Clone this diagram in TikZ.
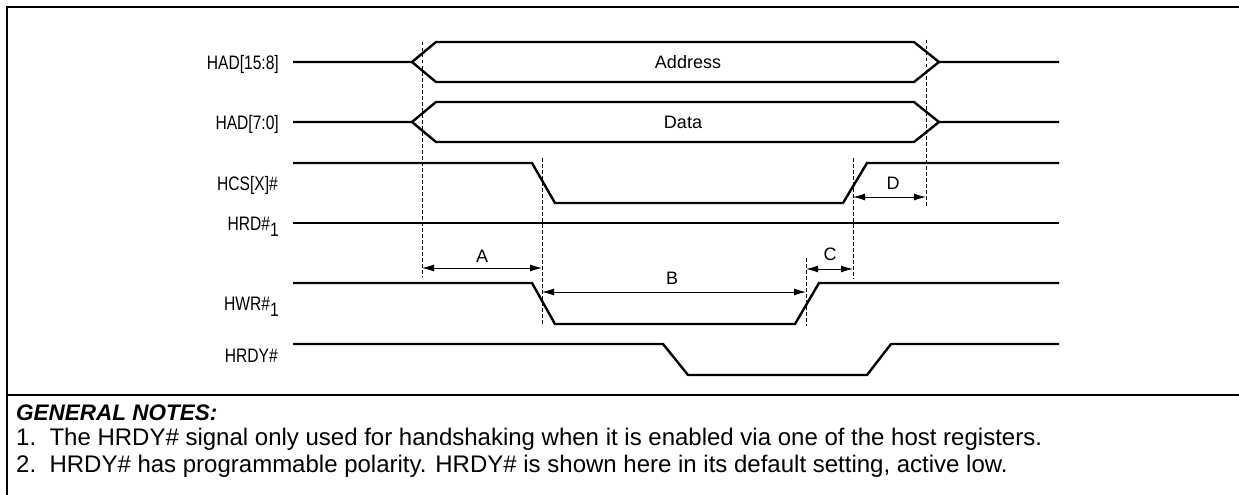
\documentclass[tikz,border=0pt]{standalone}
\usepackage{fontspec}
\setmainfont{Liberation Sans}
\newfontfamily\namefont[FakeStretch=0.8]{Liberation Sans}
\usetikzlibrary{arrows.meta}
\begin{document}
\begin{tikzpicture}[x=1pt, y=-1pt, font=\fontsize{18}{20}\selectfont,
    sig/.style={line width=2.4pt, line join=miter},
    guide/.style={line width=0.9pt, dash pattern=on 3.5pt off 2.5pt},
    dim/.style={line width=0.9pt, {Latex[length=12pt,width=7pt]}-{Latex[length=12pt,width=7pt]}},
    lbl/.style={anchor=base east, inner sep=0pt, font=\fontsize{19.5}{21}\namefont},
    tag/.style={inner sep=0pt},
    note/.style={anchor=base west, inner sep=0pt, font=\fontsize{24}{26}\selectfont}]
  \useasboundingbox (0,0) rectangle (1239,495);
  % frame
  \draw[line width=1.3pt] (7,495) -- (7,7) -- (1239,7);
  \draw[line width=1.3pt] (7,395) -- (1239,395);

  % signal names
  \node[lbl] (had1) at (279,69.5) {HAD[15:8]};
  \node[lbl] (had0) at (279,129.5) {HAD[7:0]};
  \node[lbl] (hcs)  at (278,190) {HCS[X]\#};
  \node[lbl] (hrd)  at (279,230) {HRD\#\raisebox{-6pt}{1}};
  \node[lbl] (hwr)  at (279,310) {HWR\#\raisebox{-6pt}{1}};
  \node[lbl] (hrdy) at (278,362.5) {HRDY\#};

  % waveforms
  \draw[sig] (293,62) -- (412,62) -- (436,42) -- (914,42) -- (939,62) -- (1059,62);
  \draw[sig] (412,62) -- (436,82) -- (914,82) -- (939,62);
  \node[tag] (addr) at (688,62) {Address};
  \draw[sig] (293,122) -- (412,122) -- (436,102) -- (914,102) -- (939,122) -- (1059,122);
  \draw[sig] (412,122) -- (436,142) -- (914,142) -- (939,122);
  \node[tag] (data) at (683,122) {Data};
  \draw[sig] (293,163) -- (532,163) -- (555,203) -- (843,203) -- (867,163) -- (1059,163);
  \draw[sig] (293,223) -- (1059,223);
  \draw[sig] (293,283) -- (532,283) -- (555,324) -- (795,324) -- (819,283) -- (1059,283);
  \draw[sig] (293,344) -- (663,344) -- (688,375) -- (867,375) -- (891,344) -- (1059,344);

  % timing guides
  \draw[guide] (422,42) -- (422,277);
  \draw[guide] (542,158) -- (542,326);
  \draw[guide] (806,258) -- (806,326);
  \draw[guide] (853,158) -- (853,279);
  \draw[guide] (926,40) -- (926,206);

  % timing intervals
  \coordinate (aL) at (422,268);
  \coordinate (aR) at (542,268);
  \coordinate (bL) at (542,292);
  \coordinate (bR) at (806,292);
  \coordinate (cL) at (806,269);
  \coordinate (cR) at (853,269);
  \coordinate (dL) at (853,197);
  \coordinate (dR) at (926,197);
  \draw[dim] (aL) -- (aR);
  \draw[dim] (bL) -- (bR);
  \draw[dim] (cL) -- (cR);
  \draw[dim] (dL) -- (dR);
  \node[tag] (ta) at (482,256) {A};
  \node[tag] (tb) at (672,278) {B};
  \node[tag] (tc) at (830,254) {C};
  \node[tag] (td) at (893,183) {D};

  % notes
  \node[note, font=\fontsize{22.5}{24}\selectfont\bfseries\itshape] (notes) at (16,420) {GENERAL NOTES:};
  \node[note] (note1) at (16,445) {1.\ \ The HRDY\# signal only used for handshaking when it is enabled via one of the host registers.};
  \node[note] (note2) at (16,472) {2.\ \ HRDY\# has programmable polarity. HRDY\# is shown here in its default setting, active low.};
\end{tikzpicture}
\end{document}
